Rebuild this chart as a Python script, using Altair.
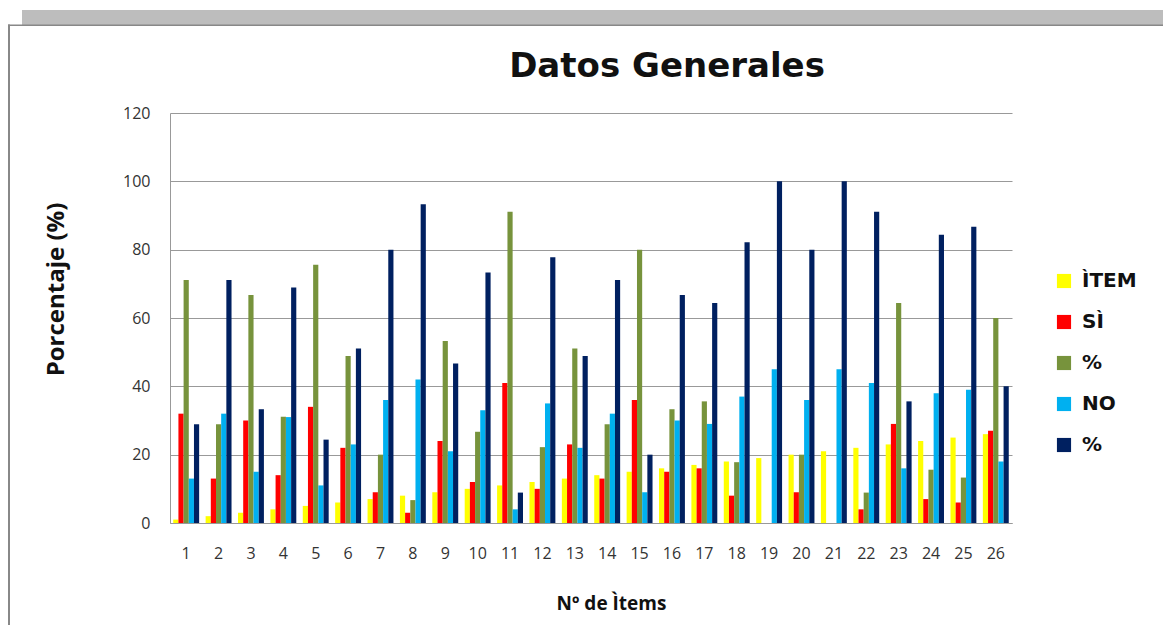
import altair as alt
import pandas as pd

items = [str(i) for i in range(1, 27)]
serie_item = [1, 2, 3, 4, 5, 6, 7, 8, 9, 10, 11, 12, 13, 14, 15, 16, 17, 18, 19, 20, 21, 22, 23, 24, 25, 26]
serie_si = [32, 13, 30, 14, 34, 22, 9, 3, 24, 12, 41, 10, 23, 13, 36, 15, 16, 8, 0, 9, 0, 4, 29, 7, 6, 27]
serie_pct_si = [71.1, 28.9, 66.7, 31.1, 75.6, 48.9, 20, 6.7, 53.3, 26.7, 91.1, 22.2, 51.1, 28.9, 80, 33.3,
                35.6, 17.8, 0, 20, 0, 8.9, 64.4, 15.6, 13.3, 60]
serie_no = [13, 32, 15, 31, 11, 23, 36, 42, 21, 33, 4, 35, 22, 32, 9, 30, 29, 37, 45, 36, 45, 41, 16, 38, 39, 18]
serie_pct_no = [28.9, 71.1, 33.3, 68.9, 24.4, 51.1, 80, 93.3, 46.7, 73.3, 8.9, 77.8, 48.9, 71.1, 20, 66.7,
                64.4, 82.2, 100, 80, 100, 91.1, 35.6, 84.4, 86.7, 40]

series_keys = ["ÌTEM", "SÌ", "% ", "NO", "%"]
series_colors = ["#FFFF00", "#FF0000", "#77933C", "#00B0F0", "#002060"]
series_values = [serie_item, serie_si, serie_pct_si, serie_no, serie_pct_no]

rows = []
for key, vals in zip(series_keys, series_values):
    for it, v in zip(items, vals):
        rows.append({"item": it, "serie": key, "valor": v})
df = pd.DataFrame(rows)

FONT = "Open Sans"
WIDE = "DejaVu Sans"

bars = alt.Chart(df).mark_bar().encode(
    x=alt.X("item:N", sort=items,
            scale=alt.Scale(paddingInner=0.2, paddingOuter=0.1),
            axis=alt.Axis(title="Nº de Ìtems", labelAngle=0, ticks=False,
                          labelPadding=22, titlePadding=33, grid=False, titleX=441,
                          domainColor="#999999", labelFontSize=16, labelColor="#333333",
                          titleFontSize=19, titleFontWeight="bold", titleColor="#111111",
                          labelFont=FONT, titleFont=FONT)),
    xOffset=alt.XOffset("serie:N", sort=series_keys,
                        scale=alt.Scale(domain=series_keys, paddingInner=0, paddingOuter=0)),
    y=alt.Y("valor:Q",
            scale=alt.Scale(domain=[0, 120], nice=False),
            axis=alt.Axis(title="Porcentaje (%)", values=[0, 20, 40, 60, 80, 100, 120],
                          ticks=False, labelPadding=20, titlePadding=54, titleY=176,
                          titleAlign="center",
                          domainColor="#999999", gridColor="#999999", gridWidth=1.2,
                          labelFontSize=16, labelColor="#333333",
                          titleFontSize=24, titleFontWeight="bold", titleColor="#111111",
                          labelFont=FONT, titleFont=FONT)),
    color=alt.Color("serie:N", sort=series_keys,
                    scale=alt.Scale(domain=series_keys, range=series_colors),
                    legend=alt.Legend(title=None, orient="none", legendX=884, legendY=158,
                                      symbolType="square", symbolSize=200, symbolStrokeWidth=0,
                                      labelFontSize=20, labelFontWeight="bold", labelColor="#111111",
                                      labelFont=WIDE, rowPadding=21, labelOffset=8, padding=0)),
)

band = alt.Chart(pd.DataFrame({"k": [0]})).mark_rect(color="#BDBDBD").encode(
    x=alt.value(-148), x2=alt.value(1010), y=alt.value(-103), y2=alt.value(-88)
)
top_line = alt.Chart(pd.DataFrame({"k": [0]})).mark_rect(color="#888888").encode(
    x=alt.value(-162), x2=alt.value(1010), y=alt.value(-88.5), y2=alt.value(-87)
)
left_line = alt.Chart(pd.DataFrame({"k": [0]})).mark_rect(color="#888888").encode(
    x=alt.value(-162), x2=alt.value(-160), y=alt.value(-88.5), y2=alt.value(520)
)

chart = alt.layer(band, top_line, left_line, bars).properties(
    width=842, height=410,
    autosize=alt.AutoSizeParams(type="none"),
    padding={"left": 162, "top": 105, "right": 151, "bottom": 102},
    title=alt.TitleParams("Datos Generales", fontSize=34, fontWeight="bold", font=WIDE,
                          color="#111111", anchor="middle", dx=76, offset=-108,
                          baseline="bottom"),
).configure_view(stroke=None)

chart.save("out.html", embed_options={"renderer": "svg", "actions": False})
